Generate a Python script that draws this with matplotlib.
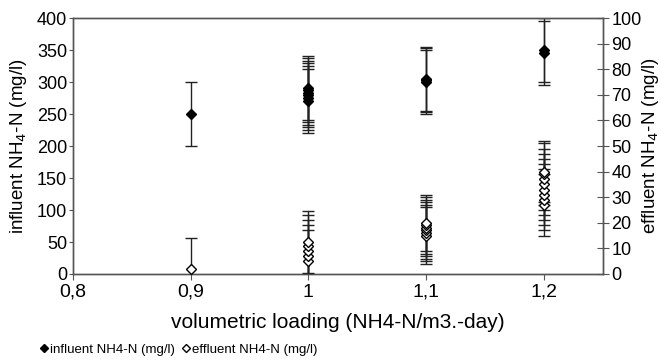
import matplotlib
matplotlib.use("Agg")
import matplotlib.pyplot as plt
from matplotlib.lines import Line2D

plt.rcParams['font.family'] = ['Liberation Sans', 'DejaVu Sans']

# influent (left axis)
inf_x = [0.9, 1.0, 1.0, 1.0, 1.0, 1.0, 1.0, 1.1, 1.1, 1.1, 1.2, 1.2]
inf_y = [250, 270, 275, 280, 283, 287, 290, 300, 303, 305, 345, 350]
inf_err = [50, 50, 50, 50, 50, 50, 50, 50, 50, 50, 50, 50]

# effluent (right axis)
eff_x = [0.9, 1.0, 1.0, 1.0, 1.0, 1.0,
         1.1, 1.1, 1.1, 1.1, 1.1, 1.1,
         1.2, 1.2, 1.2, 1.2, 1.2, 1.2, 1.2, 1.2]
eff_y = [2, 5, 7, 9, 11, 12.5,
         15, 16, 17, 18, 19, 20,
         27, 29, 31, 33, 35, 37, 39, 40]
eff_err = [12, 12, 12, 12, 12, 12,
           11, 11, 11, 11, 11, 11,
           12, 12, 12, 12, 12, 12, 12, 12]

xticks = [0.8, 0.9, 1.0, 1.1, 1.2]
xticklabels = ["0,8", "0,9", "1", "1,1", "1,2"]
left_ticks = [0, 50, 100, 150, 200, 250, 300, 350, 400]
right_ticks = [0, 10, 20, 30, 40, 50, 60, 70, 80, 90, 100]

fig = plt.figure(figsize=(6.61, 3.61), dpi=100)
ax = fig.add_axes([0.110, 0.241, 0.802, 0.709])
ax2 = ax.twinx()

spine_c = '#555555'
for a in (ax, ax2):
    for s in a.spines.values():
        s.set_color(spine_c)
        s.set_linewidth(1.0)

ax.errorbar(inf_x, inf_y, yerr=inf_err, fmt='D', color='black', ecolor='#222222',
            markersize=5, elinewidth=1.0, capsize=4, capthick=1.0, zorder=3)
ax2.errorbar(eff_x, eff_y, yerr=eff_err, fmt='D', color='black', ecolor='#222222',
             markerfacecolor='white', markeredgecolor='black', markeredgewidth=1.0,
             markersize=5, elinewidth=1.0, capsize=4, capthick=1.0, zorder=3)

ax.set_xlim(0.8, 1.25)
ax.set_ylim(0, 400)
ax2.set_ylim(0, 100)
ax.set_xticks(xticks)
ax.set_xticklabels(xticklabels)
ax.set_yticks(left_ticks)
ax2.set_yticks(right_ticks)

ax.tick_params(axis='x', direction='out', length=4, color=spine_c, labelsize=14, pad=3)
ax.tick_params(axis='y', direction='out', length=3, color=spine_c, labelsize=13, pad=1)
ax2.tick_params(axis='y', direction='inout', length=8, color=spine_c, labelsize=13, pad=2)

ax.set_xlabel("volumetric loading (NH4-N/m3.-day)", fontsize=15, labelpad=9)
ax.set_ylabel("influent NH$_4$-N (mg/l)", fontsize=13.5, labelpad=6)
ax2.set_ylabel("effluent NH$_4$-N (mg/l)", fontsize=13.5)
ax2.yaxis.set_label_coords(1.070, 0.5)

h1 = Line2D([], [], marker='D', color='black', linestyle='none', markersize=4)
h2 = Line2D([], [], marker='D', color='black', markerfacecolor='white', linestyle='none', markersize=4)
fig.legend([h1, h2], ["influent NH4-N (mg/l)", "effluent NH4-N (mg/l)"],
           loc='lower left', bbox_to_anchor=(0.042, -0.012), ncol=2, frameon=False,
           fontsize=9.5, handletextpad=0.0, columnspacing=0.3, handlelength=1.0,
           borderaxespad=0.3)

fig.savefig("out.png", dpi=100)
